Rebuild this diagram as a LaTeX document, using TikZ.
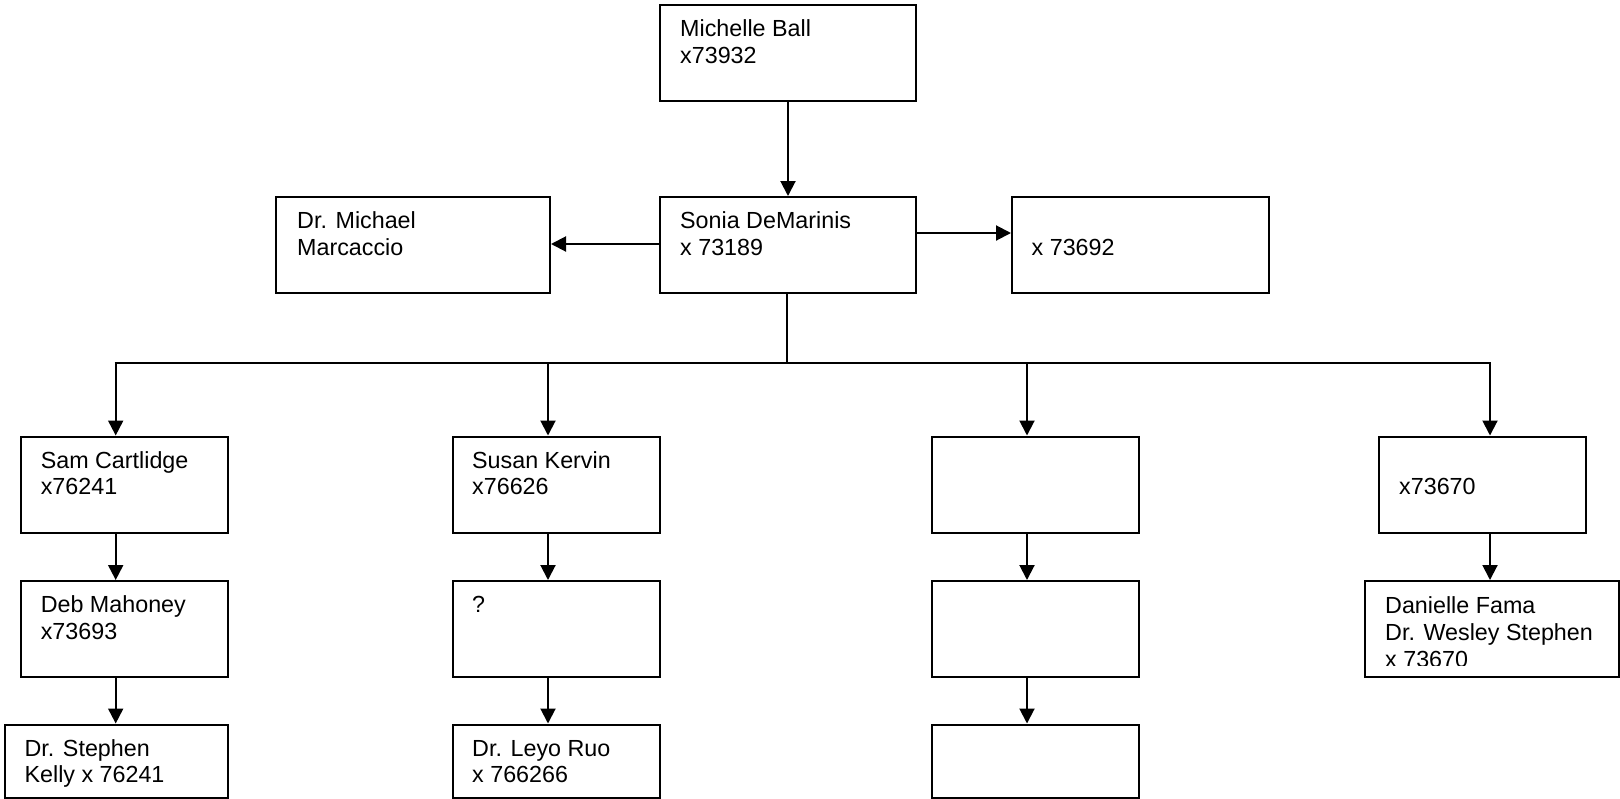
\documentclass[tikz,border=0pt]{standalone}
\usepackage{fontspec}
\setmainfont{Liberation Sans}
\usetikzlibrary{arrows.meta,calc}
\tikzset{
  box/.style={draw=black, line width=2pt, rectangle, inner sep=0pt, anchor=north west, fill=white},
  col/.style={box, minimum width=207pt, minimum height=96pt},
  txt/.style={anchor=base west, inner sep=0pt, font=\fontsize{23.3}{26.8}\selectfont},
  conn/.style={line width=2pt, draw=black},
  arr/.style={conn, -{Triangle[length=15pt,width=15pt]}},
}
\newcommand{\lines}[1]{\begin{tabular}[t]{@{}l@{}}#1\end{tabular}}
\begin{document}
\begin{tikzpicture}[x=1pt,y=-1pt]
\useasboundingbox (0,0) rectangle (1620,798);
% top
\node[box, minimum width=256pt, minimum height=96pt] (Michelle) at (659,4) {};
\node[box, minimum width=256pt, minimum height=96pt] (Sonia) at (659,196) {};
\node[box, minimum width=274pt, minimum height=96pt] (Michael) at (275,196) {};
\node[box, minimum width=257pt, minimum height=96pt] (Right) at (1011,196) {};
% row 1
\node[col] (Sam) at (19.6,435.5) {};
\node[col] (Susan) at (451.5,435.5) {};
\node[col] (BlankA) at (931,435.5) {};
\node[col] (Fourth) at (1378,435.5) {};
% row 2
\node[col] (Deb) at (19.6,580) {};
\node[col] (Quest) at (451.5,580) {};
\node[col] (BlankB) at (931,580) {};
\node[box, minimum width=254pt, minimum height=96pt] (Danielle) at (1364,580) {};
% row 3
\node[box, minimum width=223pt, minimum height=73pt] (Stephen) at (4.4,723.5) {};
\node[col, minimum height=73pt] (Leyo) at (451.5,723.5) {};
\node[col, minimum height=73pt] (BlankC) at (931,723.5) {};
% texts
\node[txt] (tMichelle) at ($(Michelle.north west)+(21,32.6)$) {\lines{Michelle Ball\\x73932}};
\node[txt] (tSonia) at ($(Sonia.north west)+(21,32.6)$) {\lines{Sonia DeMarinis\\x 73189}};
\node[txt] (tMichael) at ($(Michael.north west)+(22,32.6)$) {\lines{Dr. Michael\\Marcaccio}};
\node[txt] (tRight) at ($(Right.north west)+(20.5,59.4)$) {x 73692};
\node[txt] (tSam) at ($(Sam.north west)+(21,32.6)$) {\lines{Sam Cartlidge\\x76241}};
\node[txt] (tSusan) at ($(Susan.north west)+(20.5,32.6)$) {\lines{Susan Kervin\\x76626}};
\node[txt] (tFourth) at ($(Fourth.north west)+(21,59.4)$) {x73670};
\node[txt] (tDeb) at ($(Deb.north west)+(21,32.6)$) {\lines{Deb Mahoney\\x73693}};
\node[txt] (tQuest) at ($(Quest.north west)+(20.5,32.6)$) {?};
\begin{scope}
\clip ($(Danielle.north west)+(1,1)$) rectangle ($(Danielle.south east)+(-1,-13)$);
\node[txt] (tDanielle) at ($(Danielle.north west)+(21,33.5)$) {\lines{Danielle Fama\\Dr. Wesley Stephen\\x 73670}};
\end{scope}
\begin{scope}
\clip ($(Stephen.north west)+(1,1)$) rectangle ($(Stephen.south east)+(-1,-12)$);
\node[txt] (tStephen) at ($(Stephen.north west)+(20,32.6)$) {\lines{Dr. Stephen\\Kelly x 76241}};
\end{scope}
\node[txt] (tLeyo) at ($(Leyo.north west)+(20.5,32.6)$) {\lines{Dr. Leyo Ruo\\x 766266}};
% connectors
\coordinate (m) at (788,0);
\draw[arr] (Michelle.south -| m) -- (Sonia.north -| m);
\coordinate (yl) at (0,244);
\coordinate (yr) at (0,233);
\draw[arr] (Sonia.west |- yl) -- (Michael.east |- yl);
\draw[arr] (Sonia.east |- yr) -- (Right.west |- yr);
\coordinate (bus) at (787.3,363);
\coordinate (b1) at (115.7,363);
\coordinate (b2) at (548,363);
\coordinate (b3) at (1027,363);
\coordinate (b4) at (1490,363);
\draw[conn] (Sonia.south -| bus) -- (bus);
\draw[conn] ([xshift=-1pt]b1) -- ([xshift=1pt]b4);
\draw[arr] (b1) -- (b1 |- Sam.north);
\draw[arr] (b2) -- (b2 |- Susan.north);
\draw[arr] (b3) -- (b3 |- BlankA.north);
\draw[arr] (b4) -- (b4 |- Fourth.north);
\draw[arr] (Sam.south -| b1) -- (Deb.north -| b1);
\draw[arr] (Deb.south -| b1) -- (Stephen.north -| b1);
\draw[arr] (Susan.south -| b2) -- (Quest.north -| b2);
\draw[arr] (Quest.south -| b2) -- (Leyo.north -| b2);
\draw[arr] (BlankA.south -| b3) -- (BlankB.north -| b3);
\draw[arr] (BlankB.south -| b3) -- (BlankC.north -| b3);
\draw[arr] (Fourth.south -| b4) -- (Danielle.north -| b4);
\end{tikzpicture}
\end{document}
